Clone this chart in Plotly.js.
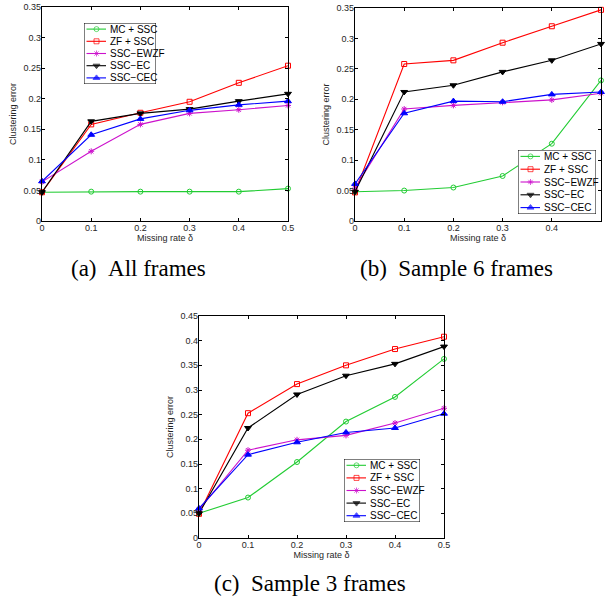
<!DOCTYPE html>
<html>
<head>
<meta charset="utf-8">
<script src="https://cdn.plot.ly/plotly-3.0.1.min.js"></script>
<style>
html,body{margin:0;padding:0;background:#fff;}
#chart{width:606px;height:596px;}
</style>
</head>
<body>
<div id="chart"></div>
<script>
// ---------- data ----------
const missingRate = [0, 0.1, 0.2, 0.3, 0.4, 0.5];
const xTickLabels = ['0', '0.1', '0.2', '0.3', '0.4', '0.5'];
const seriesNames = ['MC + SSC', 'ZF + SSC', 'SSC\u2212EWZF', 'SSC\u2212EC', 'SSC\u2212CEC'];

const yTickValsAB = [0, 0.05, 0.1, 0.15, 0.2, 0.25, 0.3, 0.35];
const yTickLabelsAB = ['0', '0.05', '0.1', '0.15', '0.2', '0.25', '0.3', '0.35'];
const yTickValsC = [0, 0.05, 0.1, 0.15, 0.2, 0.25, 0.3, 0.35, 0.4, 0.45];
const yTickLabelsC = ['0', '0.05', '0.1', '0.15', '0.2', '0.25', '0.3', '0.35', '0.4', '0.45'];

// (a) All frames
const allMC   = [0.047, 0.048, 0.048, 0.048, 0.048, 0.053];
const allZF   = [0.047, 0.158, 0.177, 0.195, 0.226, 0.254];
const allEWZF = [0.064, 0.114, 0.158, 0.176, 0.182, 0.189];
const allEC   = [0.047, 0.163, 0.176, 0.183, 0.196, 0.208];
const allCEC  = [0.065, 0.141, 0.167, 0.181, 0.190, 0.196];

// (b) Sample 6 frames
const s6MC   = [0.048, 0.050, 0.055, 0.074, 0.127, 0.231];
const s6ZF   = [0.047, 0.258, 0.264, 0.293, 0.320, 0.347];
const s6EWZF = [0.054, 0.184, 0.190, 0.195, 0.199, 0.210];
const s6EC   = [0.048, 0.212, 0.223, 0.245, 0.264, 0.291];
const s6CEC  = [0.061, 0.177, 0.197, 0.196, 0.208, 0.212];

// (c) Sample 3 frames
const s3MC   = [0.050, 0.082, 0.154, 0.236, 0.286, 0.363];
const s3ZF   = [0.049, 0.253, 0.312, 0.350, 0.383, 0.408];
const s3EWZF = [0.057, 0.178, 0.199, 0.208, 0.233, 0.263];
const s3EC   = [0.050, 0.223, 0.291, 0.329, 0.353, 0.388];
const s3CEC  = [0.060, 0.169, 0.194, 0.214, 0.223, 0.252];

const captions = ['(a)\u00a0\u00a0All frames', '(b)\u00a0\u00a0Sample 6 frames', '(c)\u00a0\u00a0Sample 3 frames'];

// ---------- styles ----------
const W = 606, H = 596;
const styles = [
  {color: '#22cc33', symbol: 'circle-open', size: 5},
  {color: '#ff0000', symbol: 'square-open', size: 5},
  {color: '#cc11cc', symbol: 'asterisk-open', size: 5},
  {color: '#000000', symbol: 'triangle-down', size: 6},
  {color: '#0000ff', symbol: 'triangle-up', size: 6}
];
const panels = [
  {series: [allMC, allZF, allEWZF, allEC, allCEC], box: [42, 7, 288, 221], yvals: yTickValsAB, ytext: yTickLabelsAB, ymax: 0.35,
   legend: [84, 23, 72, 61], caption: [138, 268]},
  {series: [s6MC, s6ZF, s6EWZF, s6EC, s6CEC], box: [355, 8, 601, 221], yvals: yTickValsAB, ytext: yTickLabelsAB, ymax: 0.35,
   legend: [518, 150, 78, 64], caption: [456, 268]},
  {series: [s3MC, s3ZF, s3EWZF, s3EC, s3CEC], box: [199, 316, 444, 538], yvals: yTickValsC, ytext: yTickLabelsC, ymax: 0.45,
   legend: [344, 459, 76, 63], caption: [310, 583]}
];

const px2x = p => p / W;
const px2y = p => 1 - p / H;
const tickFont = {family: 'Liberation Sans, Arial, sans-serif', size: 9, color: '#262626'};

const data = [];
const layout = {
  width: W, height: H,
  margin: {l: 0, r: 0, t: 0, b: 0},
  paper_bgcolor: '#ffffff', plot_bgcolor: 'rgba(0,0,0,0)',
  showlegend: false,
  font: {family: 'Liberation Sans, Arial, sans-serif', size: 9, color: '#262626'},
  annotations: [], shapes: []
};

panels.forEach((p, k) => {
  const xa = 'xaxis' + (k + 1), ya = 'yaxis' + (k + 1);
  const xr = 'x' + (k + 1), yr = 'y' + (k + 1);
  const axCommon = {
    showline: true, linecolor: '#000', linewidth: 1.2, mirror: 'ticks',
    ticks: 'inside', ticklen: 3, tickcolor: '#000', tickwidth: 1,
    showgrid: false, zeroline: false, tickfont: tickFont, fixedrange: true,
    ticklabelstandoff: -2
  };
  layout[xa] = Object.assign({}, axCommon, {
    domain: [px2x(p.box[0]), px2x(p.box[2])], range: [0, 0.5], anchor: yr,
    tickmode: 'array', tickvals: missingRate, ticktext: xTickLabels,
    title: {text: 'Missing rate \u03b4', font: {size: 9, color: '#262626'}, standoff: 0}
  });
  layout[ya] = Object.assign({}, axCommon, {
    domain: [px2y(p.box[3]), px2y(p.box[1])], range: [0, p.ymax], anchor: xr,
    tickmode: 'array', tickvals: p.yvals, ticktext: p.ytext,
    title: {text: 'Clustering error', font: {size: 9, color: '#262626'}, standoff: 5}
  });
  p.series.forEach((vals, i) => {
    const s = styles[i];
    data.push({
      type: 'scatter', mode: 'lines+markers', x: missingRate, y: vals, name: seriesNames[i],
      xaxis: xr, yaxis: yr, cliponaxis: false,
      line: {color: s.color, width: 1.1},
      marker: {symbol: s.symbol, size: s.size, color: s.color, line: {color: s.color, width: 1}}
    });
  });

  // custom legend (overlay subplot in pixel units)
  const [L, T, LW, LH] = p.legend;
  const lx = 'x' + (k + 4), ly = 'y' + (k + 4);
  layout['xaxis' + (k + 4)] = {domain: [px2x(L), px2x(L + LW)], range: [0, LW], visible: false, fixedrange: true, anchor: ly};
  layout['yaxis' + (k + 4)] = {domain: [px2y(T + LH), px2y(T)], range: [LH, 0], visible: false, fixedrange: true, anchor: lx};
  layout.shapes.push({type: 'rect', xref: lx, yref: ly, x0: 0, x1: LW, y0: 0, y1: LH,
    line: {color: '#000', width: 1}, fillcolor: '#fff', layer: 'below'});
  seriesNames.forEach((nm, i) => {
    const s = styles[i];
    const yc = LH * (i + 0.5) / 5;
    data.push({
      type: 'scatter', mode: 'lines+markers', x: [2.5, 12.5, 22], y: [yc, yc, yc],
      xaxis: lx, yaxis: ly, hoverinfo: 'skip', cliponaxis: false, showlegend: false,
      line: {color: s.color, width: 1.1},
      marker: {symbol: s.symbol, size: [0, s.size, 0], color: s.color, line: {color: s.color, width: 1}}
    });
    layout.annotations.push({xref: lx, yref: ly, x: 23.5, y: yc, text: nm, showarrow: false,
      xanchor: 'left', yanchor: 'middle', font: {family: 'Liberation Sans, Arial, sans-serif', size: 10, color: '#000'}});
  });

  layout.annotations.push({xref: 'paper', yref: 'paper', x: px2x(p.caption[0]), y: px2y(p.caption[1]),
    text: captions[k], showarrow: false, xanchor: 'center', yanchor: 'middle',
    font: {family: 'Liberation Serif, Times New Roman, serif', size: 23, color: '#000'}});
});

Plotly.newPlot('chart', data, layout, {staticPlot: true, displayModeBar: false});
</script>
</body>
</html>
